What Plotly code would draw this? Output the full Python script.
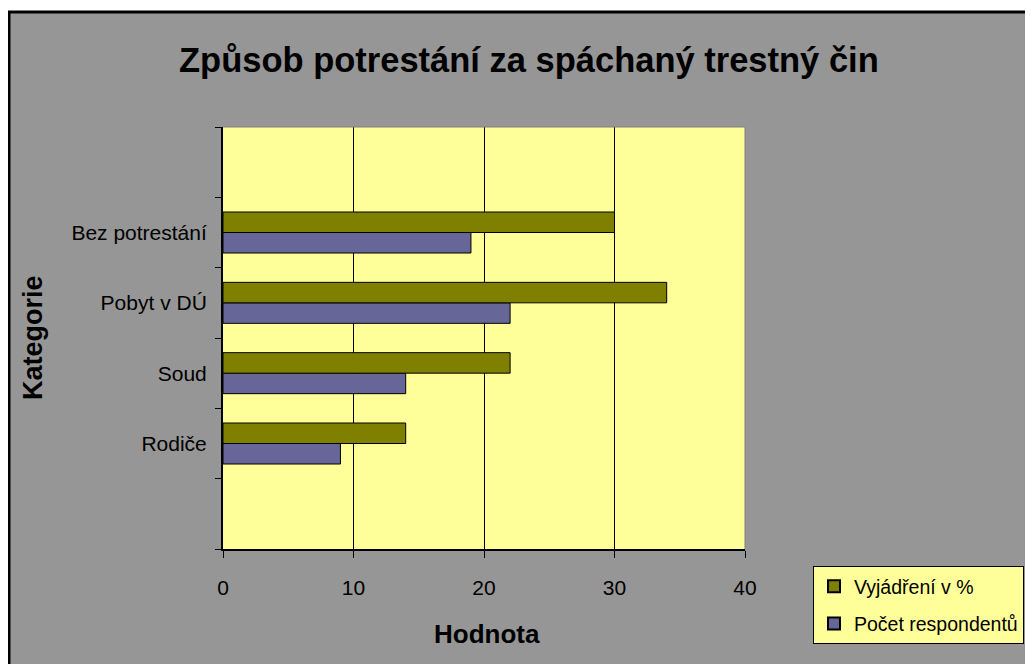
import plotly.graph_objects as go

# Data (top-to-bottom in the picture: blank, Bez potrestání, Pobyt v DÚ, Soud, Rodiče, blank)
categories_bottom_to_top = [" ", "Rodiče", "Soud", "Pobyt v DÚ", "Bez potrestání", "  "]
bar_categories = ["Rodiče", "Soud", "Pobyt v DÚ", "Bez potrestání"]
pct_values = [14, 22, 34, 30]        # Vyjádření v %
count_values = [9, 14, 22, 19]       # Počet respondentů
x_ticks = [0, 10, 20, 30, 40]

W, H = 1033, 664
OFF = 8  # page body margin
# plot area in page coordinates
L, R, T, B = 223, 745, 127, 549
pw, ph = R - L, B - T

def px(x):
    return (x - L) / pw

def py(y):
    return (B - y) / ph

GRAY = "#969696"
YEL = "#FFFF99"
OLIVE = "#808000"
PURP = "#666699"
FONT = "Liberation Sans, Arial, sans-serif"

fig = go.Figure()
fig.add_trace(go.Bar(
    y=bar_categories, x=count_values, orientation="h", name="Počet respondentů",
    marker=dict(color=PURP, line=dict(color="black", width=1)),
    legendrank=2, legendgroup="cnt",
))
fig.add_trace(go.Bar(
    y=bar_categories, x=pct_values, orientation="h", name="Vyjádření v %",
    marker=dict(color=OLIVE, line=dict(color="black", width=1)),
    legendrank=1, legendgroup="pct",
))

shapes = [
    # white strips outside the chart border
    dict(type="rect", xref="paper", yref="paper", x0=px(-20), x1=px(W + 20), y0=py(11), y1=py(-20),
         fillcolor="white", line=dict(width=0), layer="above"),
    dict(type="rect", xref="paper", yref="paper", x0=px(-20), x1=px(8), y0=py(H + 20), y1=py(-20),
         fillcolor="white", line=dict(width=0), layer="above"),
    # chart border
    dict(type="line", xref="paper", yref="paper", x0=px(8), x1=px(W + 20), y0=py(12), y1=py(12),
         line=dict(color="black", width=3)),
    dict(type="line", xref="paper", yref="paper", x0=px(9), x1=px(9), y0=py(11), y1=py(H + 20),
         line=dict(color="black", width=3)),
    # plot area border (top and right, gray)
    dict(type="line", xref="paper", yref="paper", x0=0, x1=1, y0=1, y1=1,
         line=dict(color="#808080", width=1)),
    dict(type="line", xref="paper", yref="paper", x0=1, x1=1, y0=0, y1=1,
         line=dict(color="#808080", width=1)),
]

annotations = [
    dict(text="<b>Způsob potrestání za spáchaný trestný čin</b>", xref="paper", yref="paper",
         x=px(529), y=py(60), xanchor="center", yanchor="middle", showarrow=False,
         font=dict(size=34.5, color="black", family=FONT)),
    dict(text="<b>Hodnota</b>", xref="paper", yref="paper",
         x=px(487), y=py(634), xanchor="center", yanchor="middle", showarrow=False,
         font=dict(size=26, color="black", family=FONT)),
    dict(text="<b>Kategorie</b>", xref="paper", yref="paper", textangle=-90,
         x=px(33), y=py(338), xanchor="center", yanchor="middle", showarrow=False,
         font=dict(size=27, color="black", family=FONT)),
]

fig.update_layout(
    width=W, height=H,
    margin=dict(l=L - OFF, r=W - (R - OFF), t=T - OFF, b=H - (B - OFF), pad=0),
    paper_bgcolor=GRAY, plot_bgcolor=YEL,
    barmode="group", bargap=0.417, bargroupgap=0,
    font=dict(family=FONT, color="black", size=21),
    shapes=shapes, annotations=annotations,
    showlegend=True,
    legend=dict(x=px(813), y=py(566), xanchor="left", yanchor="top",
                bgcolor=YEL, bordercolor="black", borderwidth=1,
                font=dict(size=19.5, family=FONT, color="black"),
                traceorder="grouped", tracegroupgap=9,
                itemsizing="constant", itemwidth=30),
    xaxis=dict(range=[0, 40], tickvals=x_ticks, ticktext=[str(v) for v in x_ticks],
               showgrid=True, gridcolor="black", gridwidth=1, zeroline=False,
               showline=True, linecolor="black", linewidth=2,
               ticks="outside", ticklen=7, tickcolor="black", tickwidth=1,
               ticklabelstandoff=12, tickfont=dict(size=21)),
    yaxis=dict(type="category", categoryorder="array", categoryarray=categories_bottom_to_top,
               range=[-0.5, 5.5], tickson="boundaries", showgrid=False, zeroline=False,
               showline=True, linecolor="black", linewidth=2,
               ticks="outside", ticklen=6, tickcolor="black", tickwidth=1,
               ticklabelstandoff=10, tickfont=dict(size=21)),
)

fig.write_html("out.html")
